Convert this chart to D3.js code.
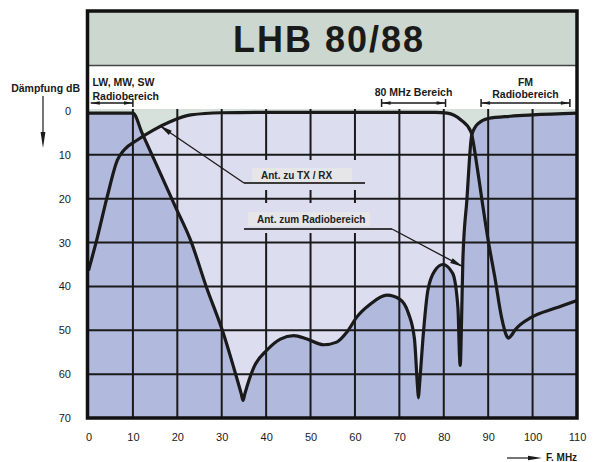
<!DOCTYPE html>
<html>
<head>
<meta charset="utf-8">
<script src="https://cdn.jsdelivr.net/npm/d3@7"></script>
<style>
  body { margin: 0; background: #fff; }
  svg { display: block; font-family: "Liberation Sans", Arial, sans-serif; }
</style>
</head>
<body>
<svg id="chart" width="594" height="462"></svg>
<script>
// axis ticks
const freqTicks = [0, 10, 20, 30, 40, 50, 60, 70, 80, 90, 100, 110];
const dbTicks = [0, 10, 20, 30, 40, 50, 60, 70];

// Ant. zu TX / RX
const txFreq = [0, 2, 4.2, 6.5, 8, 11, 14.7, 18.5, 23, 30, 40, 60, 78, 80.8, 83.8, 86.1, 87.5, 88.6, 90, 91.5, 93, 94.2, 94.6, 95.2, 96, 99.8, 105, 110];
const txDb   = [36.4, 28.8, 19.6, 11.2, 8.9, 6.6, 4.3, 2.4, 0.9, 0.4, 0.3, 0.3, 0.3, 0.5, 2, 4.7, 12.7, 20.3, 29.5, 37.9, 47, 51.4, 51.8, 51.2, 50, 47, 45, 43.2];

// Ant. zum Radiobereich
const radioFreq = [0, 5, 10, 12.1, 15.5, 19.6, 23, 26.5, 30.4, 32.7, 34.4, 34.8, 35.2, 37.2, 40.2, 43.2, 46.2, 49.2, 52.9, 55.9, 58.2, 60.4, 63.5, 67.2, 70.2, 72, 73.4, 74.1, 74.3, 74.5, 75.3, 76.4, 78, 79.8, 82, 83.2, 83.55, 83.7, 84, 84.3, 85.2, 86.3, 87.8, 90, 95, 100, 110];
const radioDb   = [0.5, 0.5, 0.5, 5.1, 12.7, 21.9, 29.5, 40, 50.8, 58.5, 64.5, 66, 64.5, 58.5, 54.5, 52, 51.2, 52, 53.3, 52.7, 50.4, 47, 44, 42, 43, 46, 52, 63, 65.4, 63, 52, 41, 36.4, 35, 37, 45, 56, 58, 48, 34, 20.3, 5.5, 2.8, 1.7, 1.2, 0.9, 0.5];

// frequency bands shown above the plot
const bandNames = [["LW, MW, SW", "Radiobereich"], ["80 MHz Bereich"], ["FM", "Radiobereich"]];
const bandFrom = [0.5, 66, 88.4];
const bandTo = [10, 80.4, 108.4];

const colors = {
    title: "#ccd7cf",
    green: "#d7e1db",
    lavender: "#dcdef0",
    blue: "#b1b9dd",
    ink: "#1a1a1a",
    labelBox: "#e6e6e9"
};

const svg = d3.select("#chart");

const x = d3.scaleLinear().domain([0, 110]).range([88.5, 577]);
const y = d3.scaleLinear().domain([0, 70]).range([111, 418]);
const plotTop = 109;

const tx = txFreq.map((f, i) => [f, txDb[i]]);
const radio = radioFreq.map((f, i) => [f, radioDb[i]]);

// clip for plot area
svg.append("clipPath").attr("id", "plotClip")
    .append("rect")
    .attr("x", x(0)).attr("y", plotTop)
    .attr("width", x(110) - x(0)).attr("height", y(70) - plotTop);

// title box + white label strip
svg.append("rect")
    .attr("x", x(0)).attr("y", 11)
    .attr("width", x(110) - x(0)).attr("height", 54)
    .attr("fill", colors.title);
svg.append("rect")
    .attr("x", x(0)).attr("y", 65)
    .attr("width", x(110) - x(0)).attr("height", plotTop - 65)
    .attr("fill", "#fff");
svg.append("line")
    .attr("x1", x(0)).attr("x2", x(110))
    .attr("y1", 65.5).attr("y2", 65.5)
    .attr("stroke", "#444").attr("stroke-width", 1.5);

svg.append("text")
    .attr("x", 329).attr("y", 52)
    .attr("text-anchor", "middle")
    .attr("font-size", 36).attr("font-weight", "bold")
    .attr("letter-spacing", 2)
    .attr("fill", "#1a1a1a")
    .text("LHB 80/88");

// plot fills
const plot = svg.append("g").attr("clip-path", "url(#plotClip)");

plot.append("rect")
    .attr("x", x(0)).attr("y", plotTop)
    .attr("width", x(110) - x(0)).attr("height", y(70) - plotTop)
    .attr("fill", colors.green);

const area = d3.area()
    .x(d => x(d[0]))
    .y0(y(70) + 5)
    .y1(d => y(d[1]))
    .curve(d3.curveMonotoneX);

plot.append("path").datum(tx).attr("d", area).attr("fill", colors.lavender);
plot.append("path").datum(radio).attr("d", area).attr("fill", colors.blue);

// grid
plot.append("g")
    .selectAll("line")
    .data(freqTicks.filter(d => d > 0 && d < 110))
    .enter().append("line")
    .attr("x1", d => x(d)).attr("x2", d => x(d))
    .attr("y1", plotTop).attr("y2", y(70))
    .attr("stroke", colors.ink).attr("stroke-width", 2);

plot.append("g")
    .selectAll("line")
    .data(dbTicks.filter(d => d > 0 && d < 70))
    .enter().append("line")
    .attr("x1", x(0)).attr("x2", x(110))
    .attr("y1", d => y(d)).attr("y2", d => y(d))
    .attr("stroke", colors.ink).attr("stroke-width", 2);

// label knockouts in grid
[[160, 190], [203, 233]].forEach(r => {
    plot.append("rect")
        .attr("x", 236).attr("y", r[0])
        .attr("width", 139).attr("height", r[1] - r[0])
        .attr("fill", colors.lavender);
});

// curves
const line = d3.line()
    .x(d => x(d[0]))
    .y(d => y(d[1]))
    .curve(d3.curveMonotoneX);

plot.append("path").datum(tx).attr("d", line)
    .attr("fill", "none").attr("stroke", colors.ink)
    .attr("stroke-width", 3.2).attr("stroke-linejoin", "round");
plot.append("path").datum(radio).attr("d", line)
    .attr("fill", "none").attr("stroke", colors.ink)
    .attr("stroke-width", 3.2).attr("stroke-linejoin", "round");

// outer frame
svg.append("rect")
    .attr("x", x(0) - 1).attr("y", 11)
    .attr("width", x(110) - x(0) + 1).attr("height", y(70) - 11)
    .attr("fill", "none")
    .attr("stroke", "#111").attr("stroke-width", 3.5);

// arrowhead helper: filled triangle with tip at p pointing away from q
function arrowHead(g, p, q, len, hw) {
    const dx = p[0] - q[0], dy = p[1] - q[1];
    const l = Math.hypot(dx, dy);
    const ux = dx / l, uy = dy / l;
    const bx = p[0] - ux * len, by = p[1] - uy * len;
    g.append("path")
        .attr("d", `M${p[0]},${p[1]}L${bx - uy * hw},${by + ux * hw}L${bx + uy * hw},${by - ux * hw}Z`)
        .attr("fill", colors.ink);
}

// band labels in the white strip
const bandG = svg.append("g");
bandNames.forEach((names, i) => {
    const x0 = x(bandFrom[i]), x1 = x(bandTo[i]);
    const ly = 103;
    const cx = i === 0 ? x(0) + 4 : (x0 + x1) / 2;
    names.forEach((n, j) => {
        bandG.append("text")
            .attr("x", cx)
            .attr("y", names.length === 1 ? 96 : (i === 0 ? 86 + j * 14 : 86 + j * 11.5))
            .attr("text-anchor", i === 0 ? "start" : "middle")
            .attr("font-size", 10.5).attr("font-weight", "bold")
            .attr("fill", "#1a1a1a")
            .text(n);
    });
    bandG.append("line")
        .attr("x1", x0).attr("x2", x1)
        .attr("y1", ly).attr("y2", ly)
        .attr("stroke", colors.ink).attr("stroke-width", 1.3);
    arrowHead(bandG, [x0, ly], [x1, ly], 9, 1.8);
    arrowHead(bandG, [x1, ly], [x0, ly], 9, 1.8);
    [x0, x1].forEach((t, k) => {
        if (i === 0 && k === 0) return;
        bandG.append("line")
            .attr("x1", t).attr("x2", t)
            .attr("y1", ly - 4).attr("y2", ly + 4)
            .attr("stroke", colors.ink).attr("stroke-width", 1.5);
    });
});

// curve annotations
const noteG = svg.append("g");
function note(text, boxX, boxY, boxW, ulY, ulX1, tip, bend) {
    noteG.append("rect")
        .attr("x", boxX).attr("y", boxY)
        .attr("width", boxW).attr("height", 14)
        .attr("fill", colors.labelBox);
    noteG.append("text")
        .attr("x", boxX + 9).attr("y", boxY + 11)
        .attr("font-size", 10).attr("font-weight", "bold")
        .attr("fill", "#222")
        .text(text);
    noteG.append("line")
        .attr("x1", 244).attr("x2", ulX1)
        .attr("y1", ulY).attr("y2", ulY)
        .attr("stroke", "#3a3a3a").attr("stroke-width", 1.8);
    const from = bend === "start" ? [244, ulY] : [ulX1, ulY];
    noteG.append("line")
        .attr("x1", from[0]).attr("y1", from[1])
        .attr("x2", tip[0]).attr("y2", tip[1])
        .attr("stroke", colors.ink).attr("stroke-width", 1.3);
    arrowHead(noteG, tip, from, 13, 2.6);
}

note("Ant. zu TX / RX", 252, 168, 100, 183, 365, [x(16), y(3.3)], "start");
note("Ant. zum Radiobereich", 248, 212, 122, 229, 392, [x(84.3), y(35.5)], "end");

// y axis
const yAxis = svg.append("g")
    .attr("transform", "translate(71,0)")
    .call(d3.axisLeft(y).tickValues(dbTicks).tickSize(0).tickPadding(0));
yAxis.select(".domain").remove();
yAxis.selectAll("text")
    .attr("font-size", 11)
    .attr("font-family", "Liberation Sans, Arial, sans-serif")
    .attr("fill", "#1a1a1a");

// x axis
const xAxis = svg.append("g")
    .attr("transform", "translate(0,433)")
    .call(d3.axisBottom(x).tickValues(freqTicks).tickSize(0).tickPadding(0));
xAxis.select(".domain").remove();
xAxis.selectAll("text")
    .attr("font-size", 11)
    .attr("font-family", "Liberation Sans, Arial, sans-serif")
    .attr("fill", "#1a1a1a");

// axis titles
svg.append("text")
    .attr("x", 80).attr("y", 92)
    .attr("text-anchor", "end")
    .attr("font-size", 10.5).attr("font-weight", "bold")
    .attr("fill", "#1a1a1a")
    .text("Dämpfung dB");
svg.append("line")
    .attr("x1", 43).attr("x2", 43)
    .attr("y1", 96).attr("y2", 140)
    .attr("stroke", colors.ink).attr("stroke-width", 1.2);
arrowHead(svg, [43, 148], [43, 96], 16, 2.4);

svg.append("text")
    .attr("x", 546).attr("y", 461)
    .attr("font-size", 10).attr("font-weight", "bold")
    .attr("fill", "#1a1a1a")
    .text("F. MHz");
svg.append("line")
    .attr("x1", 507).attr("x2", 534)
    .attr("y1", 458).attr("y2", 458)
    .attr("stroke", colors.ink).attr("stroke-width", 1.2);
arrowHead(svg, [542, 458], [507, 458], 14, 2.2);
</script>
</body>
</html>
